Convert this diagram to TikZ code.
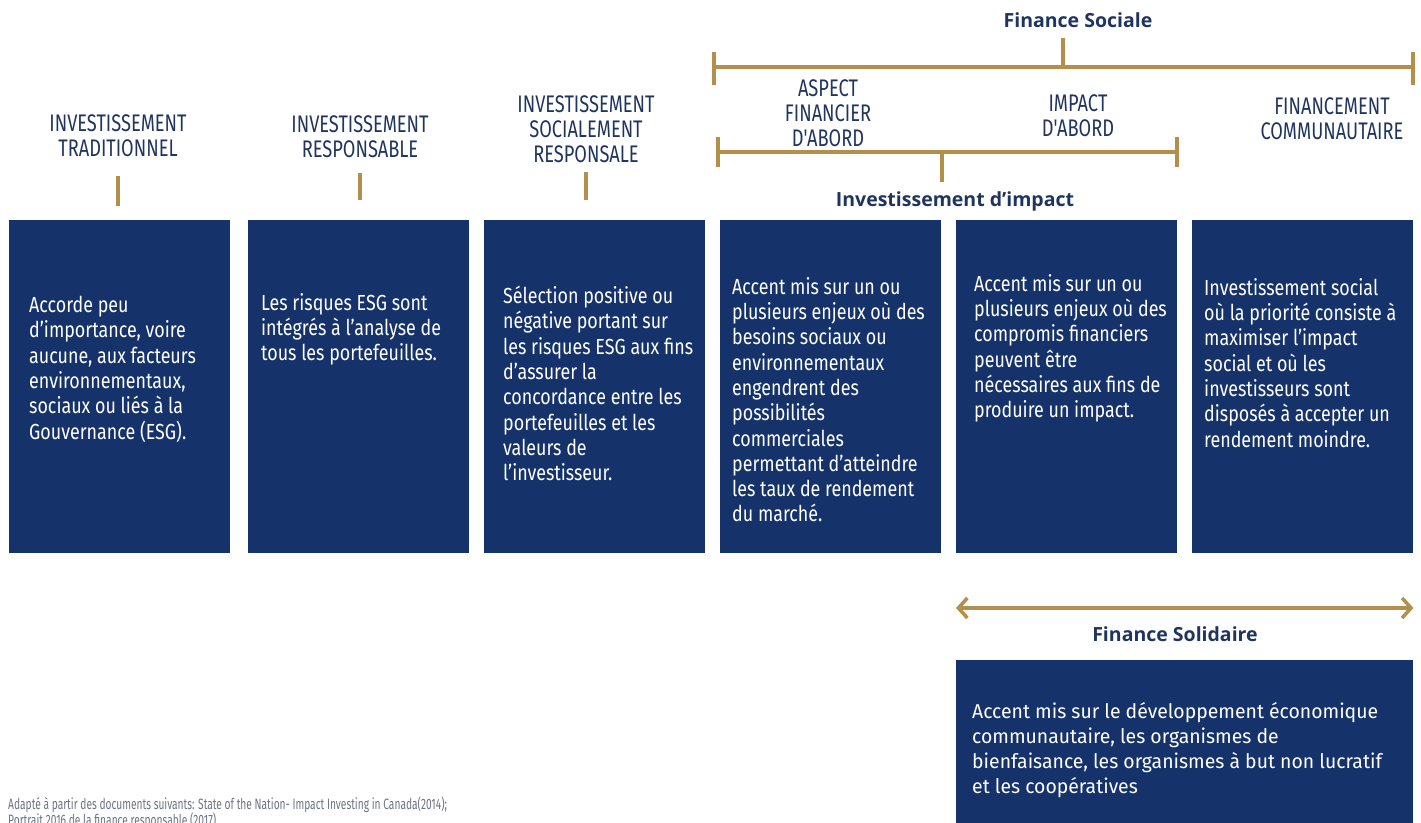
\documentclass[tikz,border=0pt]{standalone}
\usepackage{fontspec}
\setmainfont{Fira Sans}
\newfontfamily\headfont{Fira Sans}[FakeStretch=0.76]
\newfontfamily\bodyfont{Fira Sans}[FakeStretch=0.82]
\newfontfamily\widefont{Fira Sans}[FakeStretch=0.97]
\newfontfamily\notefont{Fira Sans}[FakeStretch=0.68]
\newfontfamily\labelfont{Open Sans}
\usetikzlibrary{arrows.meta}
\definecolor{navy}{HTML}{15336A}
\definecolor{inkblue}{HTML}{1F355F}
\definecolor{gold}{HTML}{B38F4B}
\definecolor{notegray}{HTML}{6B7385}
\tikzset{box/.style={fill=navy, minimum width=221pt, minimum height=333pt, anchor=north west, inner sep=0pt},
  boxtext/.style={text=white, align=left, anchor=north west, inner sep=0pt, font=\bodyfont\fontsize{21.8}{25.3}\selectfont},
  header/.style={text=inkblue, align=center, anchor=south, inner sep=0pt, font=\headfont\fontsize{24}{25}\selectfont},
  grouplabel/.style={text=inkblue, inner sep=0pt, font=\labelfont\bfseries\fontsize{19.5}{22}\selectfont},
  goldline/.style={draw=gold, line width=3.5pt}}

\begin{document}
\begin{tikzpicture}[x=1pt,y=-1pt]
  \useasboundingbox (0,0) rectangle (1421,822);
  \begin{scope}
   \node[box] (b1) at (9,220) {};
   \node[box] (b2) at (248,220) {};
   \node[box] (b3) at (484,220) {};
   \node[box] (b4) at (720,220) {};
   \node[box] (b5) at (956,220) {};
   \node[box] (b6) at (1192,220) {};
   \node[box, minimum width=457pt, minimum height=170pt] (b7) at (956,660) {};
  \end{scope}
  \begin{scope}
   \node[header] (hTrad) at (118,157) {INVESTISSEMENT\\TRADITIONNEL};
   \node[header] (hResp) at (360,158) {INVESTISSEMENT\\RESPONSABLE};
   \node[header] (hSoc) at (586,163) {INVESTISSEMENT\\SOCIALEMENT\\RESPONSALE};
   \node[header] (hAsp) at (828,147) {ASPECT\\FINANCIER\\D'ABORD};
   \node[header] (hImp) at (1078,137) {IMPACT\\D'ABORD};
   \node[header] (hCom) at (1332,140) {FINANCEMENT\\COMMUNAUTAIRE};
   \draw[goldline] ([yshift=-19pt]hTrad.south) -- ++(0,30);
   \draw[goldline] ([yshift=-15pt]hResp.south) -- ++(0,27);
   \draw[goldline] ([yshift=-9pt]hSoc.south) -- ++(0,28);
  \end{scope}
  \begin{scope}
   \node[grouplabel] (lSoc) at (1078,20) {Finance Sociale};
   \draw[goldline] (714,52) -- (714,85) (714,67) -- (1413,67) (1413,52) -- (1413,85);
   \draw[goldline] (1063,38) -- (1063,67);
   \node[grouplabel] (lImp) at (955,201) {Investissement d’impact};
   \draw[goldline] (718,137) -- (718,167) (718,152) -- (1177,152) (1177,137) -- (1177,167);
   \draw[goldline] (942,152) -- (942,182);
   \draw[goldline, {Straight Barb[length=9pt,width=20pt]}-{Straight Barb[length=9pt,width=20pt]}] (b7.north west |- 0,608) -- (b7.north east |- 0,608);
   \node[grouplabel] (lSol) at (1175,634) {Finance Solidaire};
  \end{scope}
  \node[boxtext] (t1) at (29,296) {Accorde peu\\d’importance, voire\\aucune, aux facteurs\\environnementaux,\\sociaux ou liés à la\\Gouvernance (ESG).};
  \node[boxtext] (t2) at (261,293) {Les risques ESG sont\\intégrés à l’analyse de\\tous les portefeuilles.};
  \node[boxtext] (t3) at (503,286) {Sélection positive ou\\négative portant sur\\les risques ESG aux fins\\d’assurer la\\concordance entre les\\portefeuilles et les\\valeurs de\\l’investisseur.};
  \node[boxtext] (t4) at (732,277) {Accent mis sur un ou\\plusieurs enjeux où des\\besoins sociaux ou\\environnementaux\\engendrent des\\possibilités\\commerciales\\permettant d’atteindre\\les taux de rendement\\du marché.};
  \node[boxtext] (t5) at (974,274) {Accent mis sur un ou\\plusieurs enjeux où des\\compromis financiers\\peuvent être\\nécessaires aux fins de\\produire un impact.};
  \node[boxtext] (t6) at (1204,278) {Investissement social\\où la priorité consiste à\\maximiser l’impact\\social et où les\\investisseurs sont\\disposés à accepter un\\rendement moindre.};
  \node[boxtext, font=\widefont\fontsize{20}{25}\selectfont] (t7) at (972,702) {Accent mis sur le développement économique\\communautaire, les organismes de\\bienfaisance, les organismes à but non lucratif\\et les coopératives};
  \node[anchor=north west, align=left, inner sep=0pt, text=notegray, font=\notefont\fontsize{15}{16}\selectfont] (src) at (8,797) {Adapté à partir des documents suivants: State of the Nation- Impact Investing in Canada(2014);\\Portrait 2016 de la finance responsable (2017)};
\end{tikzpicture}
\end{document}
